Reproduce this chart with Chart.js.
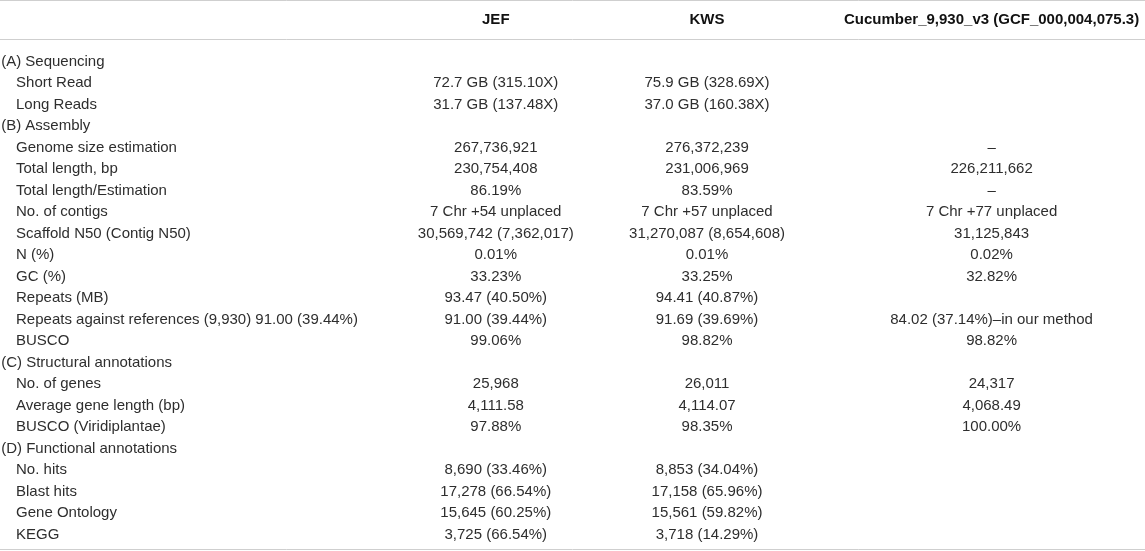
<!DOCTYPE html>
<html>
<head>
<meta charset="utf-8">
<script src="https://cdn.jsdelivr.net/npm/chart.js@4.4.1/dist/chart.umd.min.js"></script>
<style>
  html, body { margin: 0; padding: 0; background: #fff; }
  canvas { display: block; }
</style>
</head>
<body>
<canvas id="tableChart" width="1145" height="551"></canvas>
<script>
// Table content
const columnHeaders = ['JEF', 'KWS', 'Cucumber_9,930_v3 (GCF_000,004,075.3)'];

const rowLabels = [
    '(A) Sequencing',
    'Short Read',
    'Long Reads',
    '(B) Assembly',
    'Genome size estimation',
    'Total length, bp',
    'Total length/Estimation',
    'No. of contigs',
    'Scaffold N50 (Contig N50)',
    'N (%)',
    'GC (%)',
    'Repeats (MB)',
    'Repeats against references (9,930) 91.00 (39.44%)',
    'BUSCO',
    '(C) Structural annotations',
    'No. of genes',
    'Average gene length (bp)',
    'BUSCO (Viridiplantae)',
    '(D) Functional annotations',
    'No. hits',
    'Blast hits',
    'Gene Ontology',
    'KEGG'
];

const jefValues = [
    '', '72.7 GB (315.10X)', '31.7 GB (137.48X)',
    '', '267,736,921', '230,754,408', '86.19%', '7 Chr +54 unplaced',
    '30,569,742 (7,362,017)', '0.01%', '33.23%', '93.47 (40.50%)',
    '91.00 (39.44%)', '99.06%',
    '', '25,968', '4,111.58', '97.88%',
    '', '8,690 (33.46%)', '17,278 (66.54%)', '15,645 (60.25%)', '3,725 (66.54%)'
];

const kwsValues = [
    '', '75.9 GB (328.69X)', '37.0 GB (160.38X)',
    '', '276,372,239', '231,006,969', '83.59%', '7 Chr +57 unplaced',
    '31,270,087 (8,654,608)', '0.01%', '33.25%', '94.41 (40.87%)',
    '91.69 (39.69%)', '98.82%',
    '', '26,011', '4,114.07', '98.35%',
    '', '8,853 (34.04%)', '17,158 (65.96%)', '15,561 (59.82%)', '3,718 (14.29%)'
];

const refValues = [
    '', '', '',
    '', '\u2013', '226,211,662', '\u2013', '7 Chr +77 unplaced',
    '31,125,843', '0.02%', '32.82%', '',
    '84.02 (37.14%)\u2013in our method', '98.82%',
    '', '24,317', '4,068.49', '100.00%',
    '', '', '', '', ''
];

// Layout (fractions of table width, row units)
const columnCenters = [0.433, 0.6175, 0.866];
const labelX = 0.001;
const indentX = 0.014;
const headerRow = -1.92;
const ruleRows = [-2.8, -1.0, 22.73];

const FONT = '"Liberation Sans", Arial, Helvetica, sans-serif';
const TEXT_COLOR = '#2e2e2e';

function cellPoints(values, col) {
    return values
        .map((text, i) => ({ x: columnCenters[col], y: i, text }))
        .filter(p => p.text !== '');
}

const datasets = [
    {
        label: 'rows',
        align: 'left',
        data: rowLabels.map((text, i) => ({
            x: text.startsWith('(') ? labelX : indentX, y: i, text
        }))
    },
    { label: 'JEF', align: 'center', data: cellPoints(jefValues, 0) },
    { label: 'KWS', align: 'center', data: cellPoints(kwsValues, 1) },
    { label: 'ref', align: 'center', data: cellPoints(refValues, 2) },
    {
        label: 'header',
        align: 'center',
        bold: true,
        data: columnHeaders.map((text, i) => ({ x: columnCenters[i], y: headerRow, text }))
    }
];

datasets.forEach(ds => { ds.pointRadius = 0; ds.pointHoverRadius = 0; });

const tablePlugin = {
    id: 'tableText',
    beforeDatasetsDraw(chart) {
        const { ctx, chartArea, scales } = chart;
        ctx.save();
        ctx.strokeStyle = '#cfcfcf';
        ctx.lineWidth = 1;
        ruleRows.forEach(r => {
            const y = Math.round(scales.y.getPixelForValue(r)) + 0.5;
            ctx.beginPath();
            ctx.moveTo(chartArea.left, y);
            ctx.lineTo(chartArea.right, y);
            ctx.stroke();
        });
        ctx.restore();
    },
    afterDatasetsDraw(chart) {
        const { ctx } = chart;
        ctx.save();
        ctx.fillStyle = TEXT_COLOR;
        ctx.textBaseline = 'middle';
        chart.data.datasets.forEach((ds, di) => {
            const meta = chart.getDatasetMeta(di);
            ctx.font = (ds.bold ? 'bold ' : '') + '15px ' + FONT;
            ctx.fillStyle = ds.bold ? '#111' : TEXT_COLOR;
            ctx.textAlign = ds.align;
            meta.data.forEach((pt, i) => {
                ctx.fillText(ds.data[i].text, pt.x, pt.y + 1);
            });
        });
        ctx.restore();
    }
};

new Chart(document.getElementById('tableChart'), {
    type: 'scatter',
    data: { datasets },
    options: {
        responsive: false,
        animation: false,
        events: [],
        layout: { padding: 0 },
        plugins: {
            legend: { display: false },
            tooltip: { enabled: false }
        },
        scales: {
            x: { type: 'linear', min: 0, max: 1, display: false },
            y: { type: 'linear', min: -2.82, max: 22.8, reverse: true, display: false }
        }
    },
    plugins: [tablePlugin]
});
</script>
</body>
</html>
